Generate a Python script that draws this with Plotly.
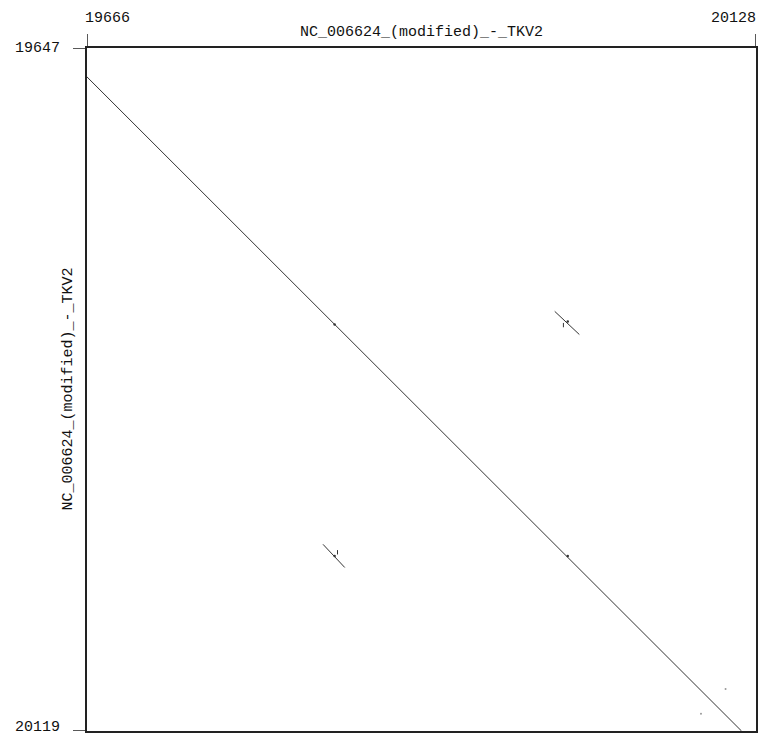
import plotly.graph_objects as go

# ---- data ----
title_text = "NC_006624_(modified)_-_TKV2"
x_ticks = [19666, 20128]
y_ticks = [19647, 20119]

main_x = [19666, 20118]
main_y = [19667, 20119]

seg1_x = [19989, 20006]
seg1_y = [19829, 19845]
seg2_x = [19829, 19844]
seg2_y = [19990, 20006]

stub1_x = [19995, 19995]
stub1_y = [19837, 19840]
stub2_x = [19839, 19839]
stub2_y = [19994, 19997]

dot_x = [19837, 19998, 19998, 19837]
dot_y = [19838, 19998, 19836, 19998]

speck_x = [20107, 20090]
speck_y = [20090, 20107]

FONT = "Liberation Mono, Courier New, monospace"
LC = "#222222"

fig = go.Figure()
for xs, ys in [(main_x, main_y), (seg1_x, seg1_y), (seg2_x, seg2_y),
               (stub1_x, stub1_y), (stub2_x, stub2_y)]:
    fig.add_trace(go.Scatter(x=xs, y=ys, mode="lines",
                             line=dict(color="#333", width=1), hoverinfo="skip"))
fig.add_trace(go.Scatter(x=dot_x, y=dot_y, mode="markers",
                         marker=dict(color="#333", size=2.5), hoverinfo="skip"))
fig.add_trace(go.Scatter(x=speck_x, y=speck_y, mode="markers",
                         marker=dict(color="#999", size=2), hoverinfo="skip"))

PW, PH = 669, 683
fig.update_layout(
    width=764, height=729,
    margin=dict(l=79, r=16, t=40, b=6),
    paper_bgcolor="white", plot_bgcolor="white",
    showlegend=False,
    font=dict(family=FONT, size=15, color="#111"),
)
fig.update_xaxes(range=[x_ticks[0], x_ticks[1]], showgrid=False, zeroline=False,
                 showticklabels=False, showline=True, mirror=True,
                 linecolor=LC, linewidth=1.5)
fig.update_yaxes(range=[y_ticks[1], y_ticks[0]], showgrid=False, zeroline=False,
                 showticklabels=False, showline=True, mirror=True,
                 linecolor=LC, linewidth=1.5)

for i, xv in enumerate(x_ticks):
    fig.add_shape(type="line", xref="x", yref="paper", x0=xv, x1=xv,
                  y0=1, y1=1 + 14 / PH, line=dict(color=LC, width=1.5))
    fig.add_annotation(xref="x", yref="paper", x=xv, y=1 + 30 / PH,
                       text=str(xv), showarrow=False,
                       xanchor="left" if i == 0 else "right",
                       xshift=-4 if i == 0 else 2,
                       yanchor="middle", font=dict(family=FONT, size=15))
for i, yv in enumerate(y_ticks):
    fig.add_shape(type="line", xref="paper", yref="y", x0=-14 / PW, x1=0,
                  y0=yv, y1=yv, line=dict(color=LC, width=1.5))
    fig.add_annotation(xref="paper", yref="y", x=-25 / PW, y=yv,
                       text=str(yv), showarrow=False, xanchor="right",
                       yanchor="middle", yshift=0 if i == 0 else 4,
                       font=dict(family=FONT, size=15))

fig.add_annotation(xref="paper", yref="paper", x=0.5, y=1 + 16 / PH,
                   text=title_text, showarrow=False, xanchor="center",
                   yanchor="middle", font=dict(family=FONT, size=15))
fig.add_annotation(xref="paper", yref="paper", x=-19 / PW, y=0.5,
                   text=title_text, showarrow=False, textangle=-90,
                   xanchor="center", yanchor="middle",
                   font=dict(family=FONT, size=15))

fig.write_html("out.html")
